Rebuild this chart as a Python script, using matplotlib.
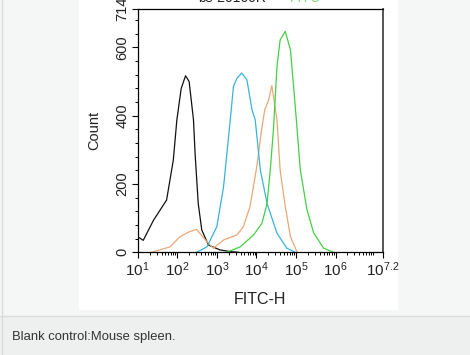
#!/usr/bin/env python3
"""Flow cytometry histogram overlay: FITC-H vs Count."""
import matplotlib
matplotlib.use("Agg")
import matplotlib.pyplot as plt
import numpy as np
from matplotlib.patches import Rectangle
from matplotlib.ticker import FixedLocator, NullFormatter

# values (x = log10 FITC-H, y = count)
black_x = [1.0, 1.14, 1.40, 1.73, 1.90, 1.99, 2.10, 2.21, 2.30, 2.41, 2.45, 2.53, 2.62, 2.79, 3.08, 3.34, 3.55]
black_y = [46, 35, 94, 153, 270, 388, 480, 517, 500, 388, 290, 143, 65, 21, 7, 2, 0]

cyan_x = [2.49, 2.75, 3.0, 3.17, 3.34, 3.42, 3.51, 3.63, 3.76, 3.89, 3.97, 4.10, 4.27, 4.52, 4.77, 4.98]
cyan_y = [0, 16, 75, 192, 388, 486, 510, 525, 505, 417, 388, 241, 143, 56, 12, 0]

orange_x = [1.35, 1.82, 2.07, 2.30, 2.49, 2.75, 2.91, 3.17, 3.51, 3.67, 3.84, 4.01, 4.13,
            4.21, 4.31, 4.39, 4.47, 4.52, 4.60, 4.73, 4.86, 5.03]
orange_y = [0, 16, 46, 60, 67, 31, 12, 36, 51, 75, 134, 251, 358, 417, 446, 488, 427, 388, 241, 134, 46, 0]

green_x = [3.25, 3.59, 3.93, 4.14, 4.27, 4.35, 4.43, 4.52, 4.60, 4.73, 4.86, 4.94, 5.01,
           5.11, 5.28, 5.45, 5.70, 5.95]
green_y = [0, 16, 51, 85, 143, 241, 358, 544, 622, 647, 593, 486, 388, 241, 124, 56, 12, 0]

y_ticks = [0, 200, 400, 600, 714]
x_decades = [1, 2, 3, 4, 5, 6]

plt.rcParams["font.family"] = ["Liberation Sans", "DejaVu Sans"]
plt.rcParams["mathtext.fontset"] = "custom"
plt.rcParams["mathtext.rm"] = "Liberation Sans"
plt.rcParams["mathtext.it"] = "Liberation Sans"

fig = plt.figure(figsize=(4.7, 3.55), dpi=100)
fig.patch.set_facecolor("#f5f7f7")

# white picture area and caption strip (behind the axes)
fig.add_artist(Rectangle((79 / 470, 1 - 310 / 355), 319 / 470, 310 / 355, zorder=-2,
                         transform=fig.transFigure, facecolor="white", edgecolor="none"))
fig.add_artist(Rectangle((0, 0), 1, 39 / 355, transform=fig.transFigure, zorder=-2,
                         facecolor="#eeefef", edgecolor="none"))
fig.add_artist(plt.Line2D([0, 1], [39 / 355, 39 / 355], transform=fig.transFigure,
                          color="#dadcdc", lw=1, zorder=-1))
fig.add_artist(plt.Line2D([1.5 / 470, 1.5 / 470], [0, 1], transform=fig.transFigure,
                          color="#dadcdc", lw=1, zorder=-1))
fig.text(12 / 470, 1 - 337 / 355, "Blank control:Mouse spleen.", fontsize=9.4,
         color="#333333", va="center", ha="left")

ax = fig.add_axes([137.7 / 470, 1 - 252.3 / 355, 245.3 / 470, 243.8 / 355])
ax.set_facecolor("white")

ax.plot(10 ** np.array(black_x), black_y, color="#111111", lw=0.9)
ax.plot(10 ** np.array(orange_x), orange_y, color="#e8a878", lw=0.9)
ax.plot(10 ** np.array(cyan_x), cyan_y, color="#38b4dc", lw=0.9)
ax.plot(10 ** np.array(green_x), green_y, color="#44d044", lw=0.9)

ax.set_xscale("log")
ax.set_xlim(10, 10 ** 7.2)
ax.set_ylim(0, 714)

xt = [10.0 ** d for d in x_decades] + [10 ** 7.2]
ax.set_xticks(xt)
ax.set_xticklabels([f"$10^{{{d}}}$" for d in x_decades] + ["$10^{7.2}$"], fontsize=11)
minor = [m * 10.0 ** d for d in range(1, 7) for m in range(2, 10) if m * 10.0 ** d < 10 ** 7.2]
ax.xaxis.set_minor_locator(FixedLocator(minor))
ax.xaxis.set_minor_formatter(NullFormatter())

ax.set_yticks(y_ticks)
ax.set_yticklabels([str(v) for v in y_ticks], rotation=90, va="center", fontsize=10.5)
ax.yaxis.set_minor_locator(FixedLocator(list(range(40, 714, 40))))

ax.tick_params(which="major", direction="out", length=4, width=0.8, color="black",
               labelcolor="#222222", pad=2)
ax.tick_params(which="minor", direction="out", length=2.5, width=0.7, color="black")

for side in ["left", "bottom", "top"]:
    ax.spines[side].set_color("black")
    ax.spines[side].set_linewidth(0.9)
ax.spines["right"].set_color("#555555")
ax.spines["right"].set_linewidth(1.4)

ax.set_xlabel("FITC-H", fontsize=11.5, color="#222222", labelpad=9)
ax.set_ylabel("Count", fontsize=10.5, color="#222222", labelpad=10)

# title, mostly cut off at the top edge
fig.text(198 / 470, 1 + 2 / 355, "bs-20160R-", fontsize=10, color="#222222",
         ha="left", va="center")
fig.text(290 / 470, 1 + 2 / 355, "FITC", fontsize=10, color="#7ed87e",
         ha="left", va="center")

fig.savefig("out.png", dpi=100, facecolor=fig.get_facecolor())
